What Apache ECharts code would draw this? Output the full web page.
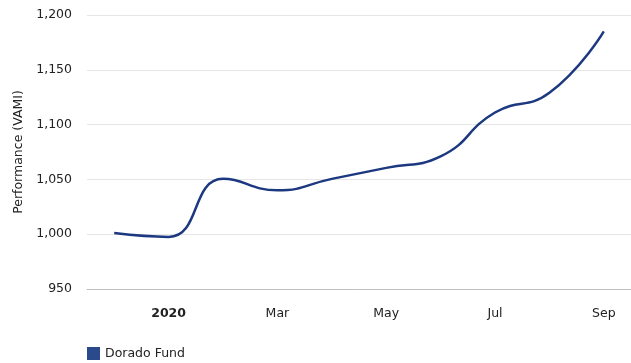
<!DOCTYPE html>
<html>
<head>
<meta charset="utf-8">
<script src="https://cdn.jsdelivr.net/npm/echarts@6/dist/echarts.min.js"></script>
<style>
  html, body { margin: 0; padding: 0; background: #fff; }
  #chart { width: 631px; height: 363px; }
</style>
</head>
<body>
<div id="chart"></div>
<script>
// monthly VAMI values, Dec 2019 .. Sep 2020
const months = ['Dec', '2020', 'Feb', 'Mar', 'Apr', 'May', 'Jun', 'Jul', 'Aug', 'Sep'];
const dorado = [1001, 997.5, 1050.5, 1040, 1050.5, 1060.5, 1071, 1111, 1129, 1185];
const yTicks = [950, 1000, 1050, 1100, 1150, 1200];

const font = 'DejaVu Sans, Verdana, sans-serif';
const chart = echarts.init(document.getElementById('chart'));

const option = {
  animation: false,
  grid: { left: 87, right: 0, top: 15, bottom: 74 },
  legend: {
    left: 87,
    top: 347,
    padding: 0,
    itemWidth: 13,
    itemHeight: 13,
    itemGap: 4,
    icon: 'rect',
    textStyle: { color: '#222', fontFamily: font, fontSize: 12.5 },
    data: ['Dorado Fund']
  },
  xAxis: {
    type: 'category',
    data: months,
    boundaryGap: true,
    axisLine: { lineStyle: { color: '#c0c0c0' } },
    axisTick: {
      alignWithLabel: true,
      length: 6,
      interval: (i) => i % 2 === 1,
      lineStyle: { color: '#c0c0c0' }
    },
    axisLabel: {
      interval: (i) => i % 2 === 1,
      margin: 18,
      color: '#222',
      fontFamily: font,
      fontSize: 12.5,
      rich: { b: { fontWeight: 'bold', fontFamily: font, fontSize: 12.5, color: '#222' } },
      formatter: (v) => v === '2020' ? '{b|' + v + '}' : v
    },
    splitLine: { show: false }
  },
  yAxis: {
    type: 'value',
    min: yTicks[0],
    max: yTicks[yTicks.length - 1],
    interval: 50,
    name: 'Performance (VAMI)',
    nameLocation: 'middle',
    nameGap: 62,
    nameTextStyle: { color: '#222', fontFamily: font, fontSize: 12.5 },
    axisLine: { show: false },
    axisTick: { show: false },
    axisLabel: {
      margin: 15,
      color: '#222',
      fontFamily: font,
      fontSize: 12.5,
      formatter: (v) => v.toLocaleString('en-US')
    },
    splitLine: { lineStyle: { color: '#e6e6e6' } }
  },
  series: [
    {
      name: 'Dorado Fund',
      type: 'line',
      data: dorado,
      smooth: 0.5,
      symbol: 'none',
      itemStyle: { color: '#2b4a8c' },
      lineStyle: { color: '#1c3880', width: 2.5 }
    }
  ]
};
chart.setOption(option);
</script>
</body>
</html>
